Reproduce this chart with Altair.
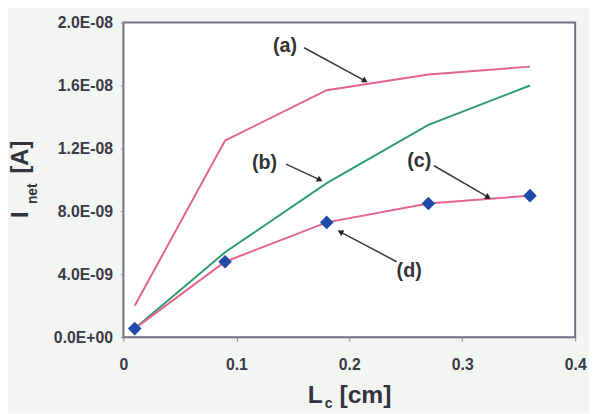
import altair as alt
import pandas as pd

# ---- data (x in cm, current in units of 1E-09 A) ----
lc_cm = [0.01, 0.09, 0.18, 0.27, 0.36]
curve_a = [2.0, 12.5, 15.7, 16.7, 17.2]
curve_b = [0.55, 5.4, 9.8, 13.5, 16.0]
curve_c = [0.55, 4.8, 7.3, 8.5, 9.0]

y_tick_values = [0, 4, 8, 12, 16, 20]
y_tick_labels = ["0.0E+00", "4.0E-09", "8.0E-09", "1.2E-08", "1.6E-08", "2.0E-08"]
x_tick_values = [0, 0.1, 0.2, 0.3, 0.4]
x_tick_labels = ["0", "0.1", "0.2", "0.3", "0.4"]

# annotations (data units)
ann_names = ["(a)", "(b)", "(c)", "(d)"]
ann_label_x = [0.143, 0.125, 0.262, 0.253]
ann_label_y = [18.5, 11.1, 11.2, 4.2]
ann_from_x = [0.160, 0.144, 0.275, 0.242]
ann_from_y = [18.4, 11.0, 10.9, 4.8]
ann_to_x = [0.214, 0.174, 0.323, 0.192]
ann_to_y = [16.3, 10.0, 8.9, 6.7]
ann_angle = [119, 117, 120, 298]

PINK = "#e2668a"
GREEN = "#2f9c6e"
BLUE = "#1f4aa6"
DARK = "#3a3a3a"
FONT = "Liberation Sans"

rows = []
for name, ys in [("a", curve_a), ("b", curve_b), ("c", curve_c)]:
    for x, y in zip(lc_cm, ys):
        rows.append({"series": name, "lc": x, "inet": y})
lines_df = pd.DataFrame(rows)
pts_df = pd.DataFrame({"lc": lc_cm, "inet": curve_c})
ann_df = pd.DataFrame({
    "name": ann_names, "lx": ann_label_x, "ly": ann_label_y,
    "fx": ann_from_x, "fy": ann_from_y, "tx": ann_to_x, "ty": ann_to_y,
    "ang": ann_angle,
})

y_label_expr = "[" + ",".join(f"'{s}'" for s in y_tick_labels) + "][round(datum.value/4)]"
x_label_expr = "[" + ",".join(f"'{s}'" for s in x_tick_labels) + "][round(datum.value*10)]"

xscale = alt.Scale(domain=[0, 0.4], nice=False, zero=False)
yscale = alt.Scale(domain=[0, 20], nice=False)

lines = alt.Chart(lines_df).mark_line(strokeWidth=2, clip=False).encode(
    x=alt.X("lc:Q", scale=xscale, axis=alt.Axis(
        values=x_tick_values, labelExpr=x_label_expr, title=None,
        labelPadding=16, labelFontSize=16, labelFontWeight="bold",
        labelColor="#3a3a48", tickSize=4, tickColor="#8a8a9a", domain=False,
        grid=False, labelFont=FONT, labelFlush=False, labelOverlap=False)),
    y=alt.Y("inet:Q", scale=yscale, axis=alt.Axis(
        values=y_tick_values, labelExpr=y_label_expr, title=None,
        labelPadding=8, labelFontSize=16, labelFontWeight="bold",
        labelColor="#3a3a48", tickSize=3, tickColor="#8a8a9a", domain=False,
        grid=False, labelFont=FONT, labelFlush=False, labelOverlap=False)),
    color=alt.Color("series:N", scale=alt.Scale(domain=["a", "b", "c"],
                                               range=[PINK, GREEN, PINK]),
                    legend=None),
    detail="series:N",
)

points = alt.Chart(pts_df).mark_point(shape="diamond", filled=True, size=190,
                                      color=BLUE, opacity=1).encode(
    x=alt.X("lc:Q", scale=xscale),
    y=alt.Y("inet:Q", scale=yscale),
)

arrows = alt.Chart(ann_df).mark_rule(color=DARK, strokeWidth=1.5).encode(
    x="fx:Q", y="fy:Q", x2="tx:Q", y2="ty:Q",
)
heads = alt.Chart(ann_df).mark_point(shape="triangle-up", filled=True, size=45,
                                     color="#222222", opacity=1).encode(
    x="tx:Q", y="ty:Q", angle=alt.Angle("ang:Q", scale=None),
)
labels = alt.Chart(ann_df).mark_text(font=FONT, fontSize=20, fontWeight="bold",
                                     color="#333333").encode(
    x="lx:Q", y="ly:Q", text="name:N",
)


def piece(text, px, py, size, angle=0, align="left", baseline="alphabetic"):
    return alt.Chart(alt.Data(values=[{"t": text}])).mark_text(
        font=FONT, fontSize=size, fontWeight="bold", color="#333340",
        align=align, baseline=baseline, angle=angle,
    ).encode(x=alt.value(px), y=alt.value(py), text="t:N")


titles = [
    piece("L", 187, 386, 25),
    piece("c", 204, 391, 14),
    piece("[cm]", 219, 386, 25),
    piece("I", -97, 198, 24, angle=270),
    piece("net", -88, 184, 14, angle=270),
    piece("[A]", -97, 153, 24, angle=270),
]

chart = alt.layer(lines, points, arrows, heads, labels, *titles).properties(
    width=458, height=319,
    autosize=alt.AutoSizeParams(type="none"),
    padding={"left": 117, "top": 12, "right": 14, "bottom": 74},
    background="#f3f5f2",
).configure_view(fill="white", stroke="#6f6f86", strokeWidth=2)

chart.save("out.html", embed_options={"renderer": "svg", "actions": False})
